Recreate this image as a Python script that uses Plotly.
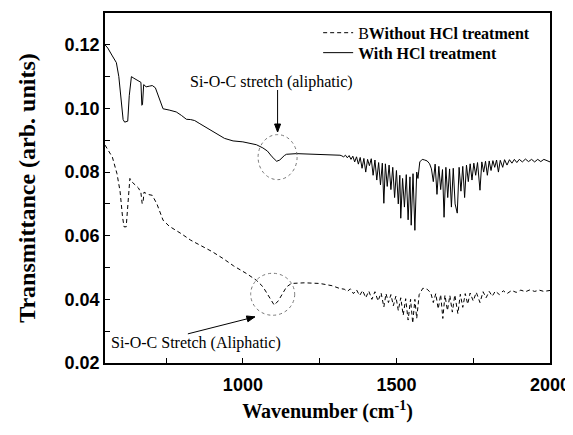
import plotly.graph_objects as go

# ---- data: with HCl treatment (solid) ----
with_x = [551, 560, 575, 588, 596, 603, 610, 615, 625, 630, 637, 645, 660, 668, 671, 673, 677, 685, 695, 705,
          715, 725, 740, 760, 783, 800, 816, 830, 843, 860, 885, 914, 940, 968, 1000, 1044, 1065, 1080, 1095, 1110,
          1120, 1135, 1142, 1175, 1220, 1270, 1316,
          1320, 1328, 1334, 1340, 1346, 1352, 1358, 1364, 1370, 1376, 1382, 1388, 1394, 1400, 1406, 1412, 1418, 1424,
          1430, 1436, 1442, 1448, 1454, 1459, 1464, 1470, 1476, 1482, 1488, 1494, 1500, 1506, 1511, 1514, 1520, 1526,
          1532, 1538, 1544, 1548, 1554, 1560, 1566, 1570, 1576, 1584, 1592, 1600, 1608, 1614, 1620, 1626, 1632, 1638,
          1644, 1650, 1655, 1661, 1667, 1673, 1679, 1685, 1691, 1698, 1704, 1710, 1716, 1722, 1728, 1734, 1740, 1746,
          1752, 1758, 1764, 1772, 1778, 1784, 1790, 1796, 1802, 1808, 1814, 1820, 1826, 1832, 1838, 1846, 1852, 1860,
          1868, 1876, 1884, 1892, 1900, 1910, 1920, 1930, 1940, 1950, 1960, 1970, 1980, 1990, 2000]
with_y = [0.1200, 0.1190, 0.1165, 0.1144, 0.1100, 0.1020, 0.0965, 0.0957, 0.0960, 0.1040, 0.1100, 0.1095, 0.1088,
          0.1082, 0.1010, 0.1012, 0.1075, 0.1068, 0.1070, 0.1072, 0.1065, 0.1040, 0.0999, 0.0995, 0.0989, 0.0978,
          0.0966, 0.0965, 0.0962, 0.0952, 0.0937, 0.0921, 0.0906, 0.0898, 0.0895, 0.0886, 0.0876, 0.0866, 0.0848,
          0.0834, 0.0838, 0.0852, 0.0856, 0.0858, 0.0857, 0.0855, 0.0853,
          0.0852, 0.0848, 0.0853, 0.0845, 0.0852, 0.0840, 0.0850, 0.0832, 0.0848, 0.0825, 0.0846, 0.0812, 0.0843,
          0.0800, 0.0840, 0.0820, 0.0842, 0.0790, 0.0838, 0.0775, 0.0830, 0.0760, 0.0828, 0.0702, 0.0826, 0.0755,
          0.0822, 0.0745, 0.0815, 0.0720, 0.0805, 0.0700, 0.0790, 0.0655, 0.0780, 0.0690, 0.0792, 0.0650, 0.0785,
          0.0633, 0.0795, 0.0617, 0.0800, 0.0780, 0.0832, 0.0840, 0.0838, 0.0835, 0.0826, 0.0810, 0.0770, 0.0825,
          0.0730, 0.0818, 0.0745, 0.0808, 0.0658, 0.0815, 0.0720, 0.0810, 0.0690, 0.0812, 0.0700, 0.0671, 0.0815,
          0.0740, 0.0818, 0.0720, 0.0822, 0.0770, 0.0826, 0.0775, 0.0828, 0.0790, 0.0830, 0.0743, 0.0832, 0.0800,
          0.0834, 0.0790, 0.0835, 0.0805, 0.0836, 0.0815, 0.0838, 0.0800, 0.0837, 0.0815, 0.0839, 0.0822, 0.0839,
          0.0828, 0.0840, 0.0830, 0.0840, 0.0832, 0.0841, 0.0833, 0.0840, 0.0832, 0.0840, 0.0833, 0.0840, 0.0835,
          0.0832]

# ---- data: without HCl treatment (dashed) ----
without_x = [551, 560, 575, 590, 600, 608, 613, 620, 626, 632, 640, 650, 660, 668, 672, 675, 678, 690, 705, 720,
             740, 760, 783, 800, 830, 871, 900, 936, 970, 1012, 1044, 1065, 1085, 1102, 1115, 1130, 1142, 1158, 1200,
             1250, 1290, 1316,
             1330, 1340, 1350, 1360, 1370, 1380, 1390, 1400, 1410, 1420, 1430, 1440, 1450, 1459, 1466, 1474, 1482,
             1490, 1498, 1506, 1514, 1522, 1530, 1538, 1546, 1553, 1560, 1566, 1574, 1586, 1600, 1612, 1620, 1628,
             1636, 1644, 1651, 1658, 1666, 1674, 1682, 1690, 1700, 1708, 1716, 1724, 1732, 1740, 1750, 1760, 1772,
             1782, 1792, 1802, 1812, 1822, 1835, 1848, 1860, 1875, 1890, 1905, 1920, 1935, 1950, 1965, 1980, 2000]
without_y = [0.0885, 0.0870, 0.0847, 0.0795, 0.0740, 0.0660, 0.0628, 0.0628, 0.0700, 0.0780, 0.0768, 0.0760,
             0.0750, 0.0735, 0.0701, 0.0705, 0.0737, 0.0730, 0.0727, 0.0700, 0.0649, 0.0630, 0.0617, 0.0606, 0.0586,
             0.0565, 0.0550, 0.0528, 0.0505, 0.0481, 0.0460, 0.0440, 0.0410, 0.0382, 0.0395, 0.0420, 0.0439, 0.0450,
             0.0452, 0.0450, 0.0443, 0.0434,
             0.0432, 0.0425, 0.0433, 0.0418, 0.0430, 0.0412, 0.0428, 0.0405, 0.0426, 0.0400, 0.0424, 0.0395, 0.0420,
             0.0376, 0.0418, 0.0390, 0.0415, 0.0380, 0.0410, 0.0365, 0.0405, 0.0350, 0.0402, 0.0335, 0.0400, 0.0325,
             0.0400, 0.0340, 0.0415, 0.0435, 0.0432, 0.0420, 0.0390, 0.0418, 0.0370, 0.0415, 0.0340, 0.0413, 0.0365,
             0.0412, 0.0360, 0.0414, 0.0355, 0.0416, 0.0375, 0.0418, 0.0385, 0.0420, 0.0395, 0.0422, 0.0390, 0.0424,
             0.0405, 0.0425, 0.0410, 0.0426, 0.0415, 0.0427, 0.0418, 0.0428, 0.0422, 0.0429, 0.0424, 0.0430, 0.0425,
             0.0429, 0.0425, 0.0428]

series_names = ["B<b>Without HCl treatment</b>", "<b>With HCl treatment</b>"]
x_tickvals = [1000, 1500, 2000]
y_tickvals = [0.02, 0.04, 0.06, 0.08, 0.10, 0.12]

fig = go.Figure()
fig.add_trace(go.Scatter(x=without_x, y=without_y, mode="lines", name=series_names[0], legend="legend",
                         line=dict(color="black", width=1, dash="4px,3px")))
fig.add_trace(go.Scatter(x=with_x, y=with_y, mode="lines", name=series_names[1], legend="legend2",
                         line=dict(color="black", width=1)))

serif = "Liberation Serif"
sans = "Liberation Sans"

# circles (dotted) around Si-O-C features
for cx, cy, rx, ry in [(1113, 0.0847, 19.5, 22.5), (1097, 0.0416, 22, 21)]:
    fig.add_shape(type="circle", xref="x", yref="y", xsizemode="pixel", ysizemode="pixel",
                  xanchor=cx, yanchor=cy, x0=-rx, x1=rx, y0=-ry, y1=ry,
                  line=dict(color="#777777", width=1, dash="dot"))

# arrows drawn as a line plus a small filled head (pixel offsets from the head point)
def add_arrow(hx, hy, tx, ty, head_path):
    fig.add_shape(type="line", xref="x", yref="y", xsizemode="pixel", ysizemode="pixel",
                  xanchor=hx, yanchor=hy, x0=tx, y0=ty, x1=0, y1=0,
                  line=dict(color="black", width=1))
    fig.add_shape(type="path", xref="x", yref="y", xsizemode="pixel", ysizemode="pixel",
                  xanchor=hx, yanchor=hy, path=head_path,
                  fillcolor="black", line=dict(color="black", width=1))

add_arrow(1113, 0.0926, 0, 42, "M 0 0 L -3 8 L 3 8 Z")
add_arrow(1039, 0.0345, -67, -17, "M 0 0 L -8.5 0.9 L -7 -4.9 Z")

fig.add_annotation(x=1094.5, y=0.1082, xref="x", yref="y", text="Si-O-C stretch (aliphatic)",
                   showarrow=False, font=dict(family=serif, size=16, color="black"))
fig.add_annotation(x=848.5, y=0.0263, xref="x", yref="y", text="Si-O-C Stretch (Aliphatic)",
                   showarrow=False, font=dict(family=serif, size=16, color="black"))

legend_style = dict(xanchor="left", yanchor="top", font=dict(family=serif, size=16, color="black"),
                    bgcolor="rgba(0,0,0,0)")

# the page body adds an 8 px margin, so the figure is 8 px smaller and margins shifted
fig.update_layout(
    width=565, height=427,
    margin=dict(l=97, r=23, t=5, b=72),
    paper_bgcolor="white", plot_bgcolor="white",
    showlegend=True,
    legend=dict(x=0.479, y=0.992, **legend_style),
    legend2=dict(x=0.479, y=0.935, **legend_style),
    xaxis=dict(range=[551, 2000], tickvals=x_tickvals, ticks="inside", ticklen=5, tickwidth=1,
               tickcolor="black", showline=True, linecolor="black", linewidth=1.5, mirror=True,
               showgrid=False, zeroline=False, automargin=False, ticklabelstandoff=5,
               tickfont=dict(family=sans, size=18, color="black", weight="bold"),
               minor=dict(tickvals=[750, 1250, 1750], ticks="inside", ticklen=5, tickwidth=1, tickcolor="black"),
               title=dict(text="<b>Wavenumber (cm<sup>-1</sup>)</b>", font=dict(family=serif, size=20, color="black"),
                          standoff=10)),
    yaxis=dict(range=[0.02, 0.13], tickvals=y_tickvals, tickformat=".2f", ticks="inside", ticklen=5, tickwidth=1,
               tickcolor="black", showline=True, linecolor="black", linewidth=1.5, mirror=True,
               showgrid=False, zeroline=False, automargin=False,
               tickfont=dict(family=sans, size=18, color="black", weight="bold"),
               minor=dict(tickvals=[0.03, 0.05, 0.07, 0.09, 0.11], ticks="inside", ticklen=5, tickwidth=1,
                          tickcolor="black"),
               title=dict(text="<b>Transmittance (arb. units)</b>", font=dict(family=serif, size=24, color="black"),
                          standoff=22)),
)

fig.write_html("out.html")
